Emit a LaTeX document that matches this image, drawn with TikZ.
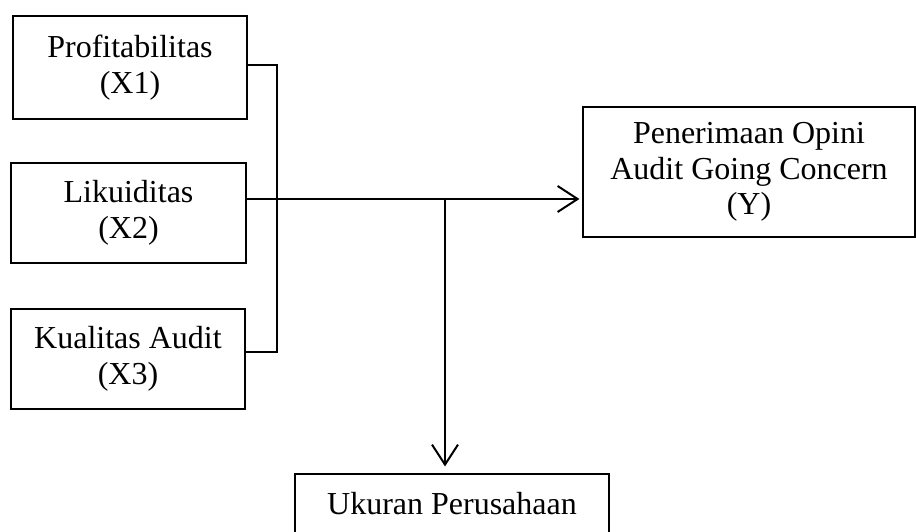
\documentclass[tikz,border=0pt]{standalone}
\usepackage{fontspec}
\setmainfont{Liberation Serif}
\usetikzlibrary{arrows.meta}
\begin{document}
\begin{tikzpicture}[x=1pt,y=-1pt,
  box/.style={draw, line width=1.1pt, align=center, inner sep=0pt, font=\fontsize{32}{35.5}\selectfont},
  conn/.style={line width=2pt},
  arr/.style={conn, -{Straight Barb[length=20pt,width=26pt,line width=2pt]}}]
\useasboundingbox (0,0) rectangle (916,532);
\node[box, minimum width=234pt, minimum height=103pt] (x1) at (130,67.5) {Profitabilitas\\(X1)};
\node[box, minimum width=235pt, minimum height=100pt] (x2) at (128.5,213) {Likuiditas\\(X2)};
\node[box, minimum width=234pt, minimum height=100pt] (x3) at (128,359) {Kualitas Audit\\(X3)};
\node[box, minimum width=332pt, minimum height=130pt] (y) at (749,172) {Penerimaan Opini\\Audit Going Concern\\(Y)};
\node[box, minimum width=314pt, minimum height=60pt] (z) at (452,504) {Ukuran Perusahaan};
\coordinate (b1) at (277,65);
\coordinate (b3) at (277,352);
\coordinate (j) at (445,199);
\draw[conn] (x1.east |- b1) -- (b1) -- (b3) -- (x3.east |- b3);
\draw[arr, shorten >=3pt] (x2.east |- j) -- (y.west |- j);
\draw[arr, shorten >=7pt] (j) -- (j |- z.north);
\end{tikzpicture}
\end{document}
